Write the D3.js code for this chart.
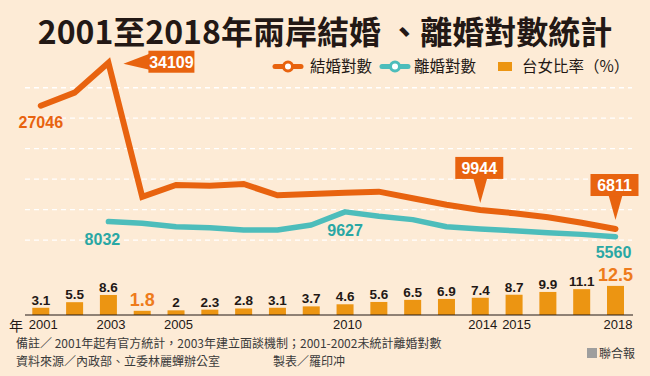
<!DOCTYPE html>
<html>
<head>
<meta charset="utf-8">
<script src="https://cdn.jsdelivr.net/npm/d3@7"></script>
<style>
  body { margin: 0; background: #fdebd6; }
  svg { display: block; }
  text { font-family: "Liberation Sans", Arial, "Noto Sans CJK TC", sans-serif; }
  .cjk { font-family: "Noto Sans CJK TC", "Noto Sans CJK SC", sans-serif; }
</style>
</head>
<body>
<svg id="chart" width="650" height="376"></svg>
<script>
// data
const years = [2001, 2002, 2003, 2004, 2005, 2006, 2007, 2008, 2009, 2010, 2011, 2012, 2013, 2014, 2015, 2016, 2017, 2018];
const marriages = [27046, 29200, 34109, 12100, 14040, 13920, 14200, 12340, 12560, 12770, 12940, 11850, 10800, 9944, 9400, 8750, 7850, 6811];
const divorces = [null, null, 8032, 7750, 7190, 7030, 6650, 6650, 7470, 9627, 8900, 8350, 7190, 6800, 6520, 6200, 5930, 5560];
const ratio = [3.1, 5.5, 8.6, 1.8, 2, 2.3, 2.8, 3.1, 3.7, 4.6, 5.6, 6.5, 6.9, 7.4, 8.7, 9.9, 11.1, 12.5];
const tickYears = [2001, 2003, 2005, 2010, 2014, 2015, 2018];
const gridValues = [5000, 10000, 15000, 20000, 25000, 30000];

const ORANGE = '#e8630f';
const TEAL = '#4dbdbb';
const TEAL_TXT = '#2aa7a4';
const BAR = '#ec9512';

const svg = d3.select('#chart');

// scales
const x = d3.scalePoint().domain(years).range([40.8, 615.5]);
const y = d3.scaleLinear().domain([0, 35000]).range([270.5, 57.3]);
const yBar = d3.scaleLinear().domain([0, 12.5]).range([315, 285.9]);
const barW = 17;

// title
svg.append('text')
  .attr('class', 'cjk')
  .attr('x', 325).attr('y', 44)
  .attr('text-anchor', 'middle')
  .attr('font-size', 32).attr('font-weight', 700)
  .attr('fill', '#231815')
  .text('2001至2018年兩岸結婚 、離婚對數統計');

// gridlines
svg.append('g').selectAll('line').data(gridValues)
  .join('line')
    .attr('x1', 25).attr('x2', 632)
    .attr('y1', d => y(d)).attr('y2', d => y(d))
    .attr('stroke', '#fff')
    .attr('stroke-width', 1.3)
    .attr('stroke-dasharray', '5,4');

// legend
const legend = svg.append('g').attr('class', 'legend');
[[ORANGE, 275, 310, '結婚對數'], [TEAL, 382, 414, '離婚對數']].forEach(([c, lx, tx, label]) => {
  legend.append('line')
    .attr('x1', lx).attr('x2', lx + 26).attr('y1', 66.5).attr('y2', 66.5)
    .attr('stroke', c).attr('stroke-width', 5).attr('stroke-linecap', 'round');
  legend.append('circle')
    .attr('cx', lx + 13).attr('cy', 66.5).attr('r', 4.5)
    .attr('fill', '#fff').attr('stroke', c).attr('stroke-width', 3);
  legend.append('text')
    .attr('class', 'cjk')
    .attr('x', tx).attr('y', 72)
    .attr('font-size', 15.5).attr('fill', '#231815')
    .text(label);
});
legend.append('rect')
  .attr('x', 498).attr('y', 62).attr('width', 14).attr('height', 9)
  .attr('fill', BAR);
legend.append('text')
  .attr('class', 'cjk')
  .attr('x', 522).attr('y', 72)
  .attr('font-size', 15.5).attr('fill', '#231815')
  .text('台女比率（%）');

// bars
svg.append('g').selectAll('rect').data(ratio)
  .join('rect')
    .attr('x', (d, i) => x(years[i]) - barW / 2)
    .attr('y', d => yBar(d))
    .attr('width', barW)
    .attr('height', d => yBar(0) - yBar(d))
    .attr('fill', BAR);

// bar labels
const big = new Set([3, 17]);
svg.append('g').selectAll('text').data(ratio)
  .join('text')
    .attr('x', (d, i) => x(years[i]))
    .attr('y', (d, i) => yBar(d) - (big.has(i) ? 5 : 3))
    .attr('text-anchor', 'middle')
    .attr('font-weight', 700)
    .attr('font-size', (d, i) => big.has(i) ? 18 : 13.5)
    .attr('fill', (d, i) => big.has(i) ? '#ee7b1c' : '#231815')
    .text(d => d);

// baseline and x labels
svg.append('line')
  .attr('x1', 25).attr('x2', 633).attr('y1', 315).attr('y2', 315)
  .attr('stroke', '#231815').attr('stroke-width', 1.2);

const xAxis = svg.append('g')
  .attr('transform', 'translate(2,316)')
  .call(d3.axisBottom(x).tickValues(tickYears).tickSize(0).tickPadding(4));
xAxis.select('.domain').remove();
xAxis.selectAll('text')
  .attr('font-size', 13)
  .attr('fill', '#231815')
  .style('font-family', '"Liberation Sans", Arial, sans-serif');

svg.append('text')
  .attr('class', 'cjk')
  .attr('x', 9).attr('y', 331)
  .attr('font-size', 14).attr('fill', '#231815')
  .text('年');

// lines
const line = d3.line()
  .defined(d => d[1] != null)
  .x(d => x(d[0]))
  .y(d => y(d[1]));

svg.append('path')
  .datum(years.map((yr, i) => [yr, divorces[i]]))
  .attr('d', line)
  .attr('fill', 'none')
  .attr('stroke', TEAL)
  .attr('stroke-width', 5.5)
  .attr('stroke-linecap', 'round')
  .attr('stroke-linejoin', 'round');

svg.append('path')
  .datum(years.map((yr, i) => [yr, marriages[i]]))
  .attr('d', line)
  .attr('fill', 'none')
  .attr('stroke', ORANGE)
  .attr('stroke-width', 6)
  .attr('stroke-linecap', 'round')
  .attr('stroke-linejoin', 'miter');

// plain value labels
const plainLabels = [
  { yr: 2001, v: marriages[0], dx: 0, dy: 22, c: ORANGE },
  { yr: 2003, v: divorces[2], dx: -6, dy: 23, c: TEAL_TXT },
  { yr: 2010, v: divorces[9], dx: 0, dy: 24, c: TEAL_TXT },
  { yr: 2018, v: divorces[17], dx: -2, dy: 21, c: TEAL_TXT }
];
svg.append('g').selectAll('text').data(plainLabels)
  .join('text')
    .attr('x', d => x(d.yr) + d.dx)
    .attr('y', d => y(d.v) + d.dy)
    .attr('text-anchor', 'middle')
    .attr('font-size', 16).attr('font-weight', 700)
    .attr('fill', d => d.c)
    .text(d => d.v);

// callouts
const callouts = svg.append('g');
function calloutLeft(yr, v) {
  const tx = x(yr) + 15, ty = y(v);
  const bx = tx + 25;
  callouts.append('path')
    .attr('d', `M${tx},${ty + 1} L${bx + 1},${ty - 9} L${bx + 1},${ty + 7} Z`)
    .attr('fill', ORANGE);
  callouts.append('rect')
    .attr('x', bx).attr('y', ty - 12).attr('width', 46).attr('height', 22)
    .attr('fill', ORANGE);
  callouts.append('text')
    .attr('x', bx + 23).attr('y', ty + 5)
    .attr('text-anchor', 'middle')
    .attr('font-size', 16).attr('font-weight', 700).attr('fill', '#fff')
    .text(v);
}
function calloutUp(yr, v, gap) {
  const tx = x(yr), ty = y(v) - gap;
  const by = ty - 24;
  callouts.append('path')
    .attr('d', `M${tx},${ty} L${tx - 7},${by - 1} L${tx + 7},${by - 1} Z`)
    .attr('fill', ORANGE);
  callouts.append('rect')
    .attr('x', tx - 25).attr('y', by - 22).attr('width', 48).attr('height', 22)
    .attr('fill', ORANGE);
  callouts.append('text')
    .attr('x', tx - 1).attr('y', by - 5)
    .attr('text-anchor', 'middle')
    .attr('font-size', 16).attr('font-weight', 700).attr('fill', '#fff')
    .text(v);
}
calloutLeft(2003, marriages[2]);
calloutUp(2014, marriages[13], 7);
calloutUp(2018, marriages[17], 9);

// footnotes
const notes = svg.append('g').attr('font-size', 12).attr('fill', '#3a3a3a');
notes.append('text').attr('class', 'cjk').attr('x', 16).attr('y', 348)
  .text('備註／ 2001年起有官方統計，2003年建立面談機制；2001-2002未統計離婚對數');
notes.append('text').attr('class', 'cjk').attr('x', 16).attr('y', 366)
  .text('資料來源／內政部、立委林麗蟬辦公室');
notes.append('text').attr('class', 'cjk').attr('x', 273).attr('y', 366)
  .text('製表／羅印冲');
notes.append('rect').attr('x', 587).attr('y', 348).attr('width', 10).attr('height', 10).attr('fill', '#9e9e9e');
notes.append('text').attr('class', 'cjk').attr('x', 599).attr('y', 358)
  .text('聯合報');
</script>
</body>
</html>
